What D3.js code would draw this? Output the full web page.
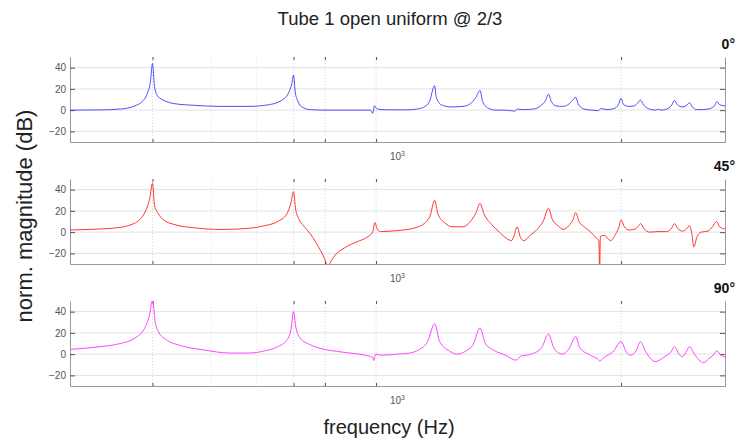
<!DOCTYPE html>
<html>
<head>
<meta charset="utf-8">
<script src="https://cdn.jsdelivr.net/npm/d3@7"></script>
<style>
  body { margin: 0; background: #fff; font-family: "Liberation Sans", Arial, sans-serif; }
</style>
</head>
<body>
<svg id="chart" width="745" height="444"></svg>
<script>
// frequency (Hz) and normalised magnitude (dB)
var freq0 = [200,232,256,275,285,292,297,300,303,308,318,335,370,420,480,530,565,585,595,600,605,612,625,650,700,800,875,885,893,905,950,1050,1100,1140,1170,1200,1210,1240,1300,1380,1430,1470,1500,1520,1560,1620,1700,1780,1800,1850,1950,2020,2070,2100,2130,2180,2250,2310,2360,2400,2430,2500,2600,2680,2720,2800,2900,2960,3000,3040,3120,3200,3260,3300,3350,3450,3550,3600,3650,3780,3850,3900,3960,4050,4130,4200,4260,4350,4500,4550,4650,4750,4800,4870,5000];
var mag0  = [0,0.2,1,4,8,15,27,44,22,13,9,6,4.5,3.5,3.5,5,9,16,25,33,17,9,3,0.5,0,0,0,-3,4,1,0.3,0.3,1,3,8,23,12,5,3,3.5,6,12,18.5,8,2,0,0,-1,1,0.5,1,4,9,15,8,4,3.5,5,9,12,6,1,0,-0.5,1.5,0.5,1.5,5,11,5,3.5,4,7,9.5,5,1,0,1,0,1.5,5,9,5,3,4,7,3,0.5,0.5,0.8,1.5,4,8,5,4];

var freq45 = [200,232,256,270,282,290,296,300,303,308,318,335,370,420,480,520,555,580,592,600,606,615,630,650,670,690,703,710,718,735,770,820,860,885,895,905,920,970,1030,1090,1140,1175,1200,1220,1260,1310,1380,1430,1470,1500,1530,1590,1650,1710,1750,1775,1800,1830,1860,1920,1990,2050,2100,2140,2200,2260,2320,2370,2400,2440,2520,2600,2660,2690,2700,2710,2760,2850,2920,2970,3000,3050,3120,3220,3270,3300,3360,3450,3600,3750,3850,3900,3970,4060,4140,4200,4250,4290,4360,4450,4600,4700,4800,4870,5000];
var mag45  = [2,3,4.5,7,12,20,32,46,25,18,11,7,4,2.5,3.5,6,10,17,27,38,22,13,6,-1,-10,-20,-28,-34,-29,-22,-15,-9,-5,0,9,3,0.5,1,2,4,8,16,30,17,9,5,5,10,18,27,17,7,0,-6,-8,-3,5,-5,-8,-3,3,11,22.5,12,6,2.5,6,12,18.4,10,4,-1,-6,-8,-40,-4,-3,-8,-2,5,11.4,5,2,3,6,8,3,0,0.5,0.5,4,8,3,1,3,6,-2,-14,-4,0,1,5,10,5,3];

var freq90 = [200,232,256,275,289,296,300,304,310,320,345,385,440,480,520,555,580,592,600,607,620,650,690,760,850,885,890,898,920,1000,1060,1110,1160,1200,1230,1290,1340,1400,1450,1500,1540,1600,1700,1790,1830,1930,2030,2100,2160,2250,2330,2400,2450,2580,2680,2700,2760,2880,3000,3080,3140,3230,3300,3380,3550,3700,3830,3900,3990,4050,4130,4200,4300,4500,4620,4720,4800,4900,5000];
var mag90  = [4.5,7,10,15,25,38,52,30,20,14,8,4,1,1,3,7,13,22,40,25,15,9,5,2,-1,-3,-6,0,-1,0,1,4,12,28.6,12,3,0,3,9,24.5,10,4,-1,-5.7,-2,0,6,19,5,0,6,16.5,6,-1,-5,-6.4,-3,2,11.7,2,-1,3,11.7,3,-7,-3,2,7,0,-2.5,2,7,0,-8,-4,-1,3,-1,-3];

var panelLabels = ["0\u00b0", "45\u00b0", "90\u00b0"];
var lineColors = ["#3b3bff", "#ff2020", "#ff30ff"];
var yTicks = [-20, 0, 20, 40];
var gridFreqs = [300, 400, 500, 600, 700, 900, 3000];
var tickFreqs = [300, 600, 700, 900, 3000];

var series = [
  d3.zip(freq0, mag0),
  d3.zip(freq45, mag45),
  d3.zip(freq90, mag90)
];

var svg = d3.select("#chart");
var left = 70, right = 725, ph = 85;
var tops = [57, 179, 301];

var x = d3.scaleLog().domain([200, 5000]).range([left, right]);
var y = d3.scaleLinear().domain([-30, 50]).range([ph, 0]);

var line = d3.line()
  .x(function(d) { return x(d[0]); })
  .y(function(d) { return y(d[1]); })
  .curve(d3.curveMonotoneX);

svg.append("text")
  .attr("x", 390).attr("y", 25)
  .attr("text-anchor", "middle")
  .attr("font-size", 18.5).attr("fill", "#222")
  .text("Tube 1 open uniform @ 2/3");

series.forEach(function(data, i) {
  var g = svg.append("g").attr("transform", "translate(0," + tops[i] + ")");

  g.append("clipPath").attr("id", "clip" + i)
    .append("rect")
    .attr("x", left).attr("y", 0)
    .attr("width", right - left).attr("height", ph);

  g.selectAll(".hgrid")
    .data(yTicks)
    .enter().append("line")
    .attr("x1", left).attr("x2", right)
    .attr("y1", function(d) { return y(d); })
    .attr("y2", function(d) { return y(d); })
    .attr("stroke", "#e2e2e2");

  g.selectAll(".vgrid")
    .data(gridFreqs)
    .enter().append("line")
    .attr("x1", function(d) { return x(d); })
    .attr("x2", function(d) { return x(d); })
    .attr("y1", 0).attr("y2", ph)
    .attr("stroke", function(d) { return tickFreqs.indexOf(d) < 0 ? "#e6e6e6" : "#d6d6d6"; })
    .attr("stroke-dasharray", "1,2");

  var yl = g.append("g")
    .attr("transform", "translate(" + left + ",0)")
    .call(d3.axisLeft(y).tickValues(yTicks).tickSize(-5).tickSizeOuter(0).tickPadding(4));

  var yr = g.append("g")
    .attr("transform", "translate(" + right + ",0)")
    .call(d3.axisRight(y).tickValues(yTicks).tickSize(-5).tickSizeOuter(0).tickFormat(""));

  var xb = g.append("g")
    .attr("transform", "translate(0," + ph + ")")
    .call(d3.axisBottom(x).tickValues(tickFreqs).tickSize(-3).tickSizeOuter(0).tickFormat(""));

  var xt = g.append("g")
    .call(d3.axisTop(x).tickValues(tickFreqs).tickSize(-3).tickSizeOuter(0).tickFormat(""));
  xt.select(".domain").remove();

  [yl, yr, xb, xt].forEach(function(a) {
    a.select(".domain").attr("stroke", "#999");
    a.selectAll(".tick line").attr("stroke", "#555");
    a.selectAll("text").attr("fill", "#555").attr("font-size", 10)
      .attr("font-family", "Liberation Sans, Arial, sans-serif");
  });

  g.append("path")
    .datum(data)
    .attr("clip-path", "url(#clip" + i + ")")
    .attr("fill", "none")
    .attr("stroke", lineColors[i])
    .attr("stroke-width", 0.9)
    .attr("d", line);

  var lab = g.append("text")
    .attr("x", x(1000)).attr("y", ph + 18)
    .attr("text-anchor", "middle")
    .attr("font-size", 10).attr("fill", "#555");
  lab.append("tspan").text("10");
  lab.append("tspan").attr("dy", -4).attr("font-size", 7).text("3");

  g.append("text")
    .attr("x", 735).attr("y", -8)
    .attr("text-anchor", "end")
    .attr("font-size", 14).attr("font-weight", "bold").attr("fill", "#111")
    .text(panelLabels[i]);
});

svg.append("text")
  .attr("transform", "translate(32,216) rotate(-90)")
  .attr("text-anchor", "middle")
  .attr("font-size", 22).attr("fill", "#222")
  .text("norm. magnitude (dB)");

svg.append("text")
  .attr("x", 389).attr("y", 434)
  .attr("text-anchor", "middle")
  .attr("font-size", 20).attr("fill", "#222")
  .text("frequency (Hz)");
</script>
</body>
</html>
